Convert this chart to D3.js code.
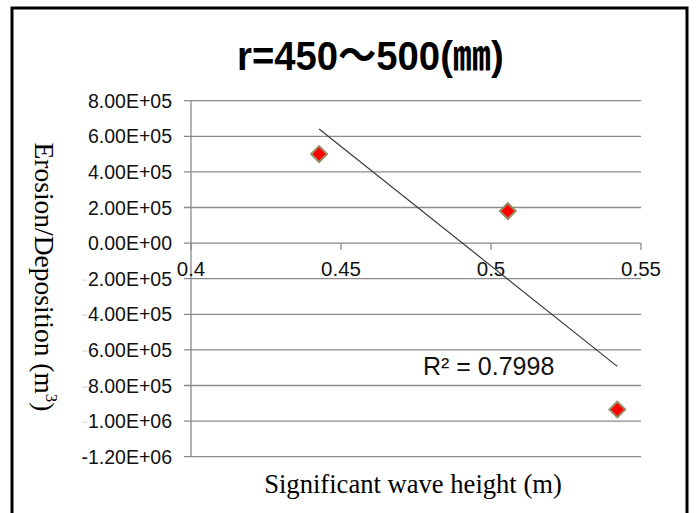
<!DOCTYPE html>
<html><head><meta charset="utf-8">
<script src="https://cdn.jsdelivr.net/npm/d3@7"></script>
<style>body{margin:0;background:#fff}svg{display:block}</style>
</head><body>
<script>
const titleText = "r=450～500(㎜)";
const xLabel = "Significant wave height (m)";
const yLabel = "Erosion/Deposition (m";
const waveHeight = [0.4427, 0.5056, 0.5421];
const erosionDeposition = [500000, 180000, -935000];
const xTicks = [0.4, 0.45, 0.5, 0.55];
const yTicks = [800000, 600000, 400000, 200000, 0, -200000, -400000, -600000, -800000, -1000000, -1200000];
const r2Label = "R² = 0.7998";

const W = 696, H = 513;
const svg = d3.select("body").append("svg").attr("width", W).attr("height", H);
svg.append("rect").attr("width", W).attr("height", H).attr("fill", "#fff");

// frame
svg.append("path").attr("d", `M12,513 V8 H687 V513`).attr("fill", "none")
  .attr("stroke", "#000").attr("stroke-width", 3);

const x = d3.scaleLinear().domain([0.4, 0.55]).range([191, 641]);
const y = d3.scaleLinear().domain([-1200000, 800000]).range([456.7, 100.7]);
const grid = "#8a8a8a";

// horizontal gridlines + y ticks
svg.append("g").selectAll("line").data(yTicks).join("line")
  .attr("x1", x(0.4) - 7).attr("x2", x(0.55))
  .attr("y1", d => y(d)).attr("y2", d => y(d))
  .attr("stroke", grid).attr("stroke-width", 1.3);
// y axis line
svg.append("line").attr("x1", x(0.4)).attr("x2", x(0.4))
  .attr("y1", y(800000)).attr("y2", y(-1200000))
  .attr("stroke", grid).attr("stroke-width", 1.3);
// x ticks at zero line
svg.append("g").selectAll("line").data(xTicks).join("line")
  .attr("x1", d => x(d)).attr("x2", d => x(d))
  .attr("y1", y(0)).attr("y2", y(0) + 7)
  .attr("stroke", grid).attr("stroke-width", 1.3);

// y tick labels
const fmt = v => Math.abs(v).toExponential(2).toUpperCase().replace(/E([+-])(\d)$/, "E$10$2");
const yl = svg.append("g").attr("font-family", "Liberation Sans, Arial, sans-serif")
  .attr("font-size", 19.5).attr("fill", "#111").attr("text-anchor", "end");
yTicks.forEach(v => {
  const t = yl.append("text").attr("x", 172).attr("y", y(v)).attr("dy", "0.36em");
  if (v < 0) t.append("tspan").attr("fill", v === -1200000 ? "#111" : "#e2e2e2").text("-");
  t.append("tspan").text(fmt(v));
});

// x tick labels
svg.append("g").selectAll("text").data(xTicks).join("text")
  .attr("x", d => x(d)).attr("y", 276)
  .attr("text-anchor", "middle")
  .attr("font-family", "Liberation Sans, Arial, sans-serif")
  .attr("font-size", 20.5).attr("fill", "#111")
  .text(d => String(d));

// trendline (least squares)
const n = waveHeight.length;
const mx = d3.mean(waveHeight), my = d3.mean(erosionDeposition);
let sxy = 0, sxx = 0;
for (let i = 0; i < n; i++) { sxy += (waveHeight[i]-mx)*(erosionDeposition[i]-my); sxx += (waveHeight[i]-mx)**2; }
const slope = sxy / sxx, icpt = my - slope * mx;
const [x0, x1] = d3.extent(waveHeight);
svg.append("line")
  .attr("x1", x(x0)).attr("y1", y(icpt + slope * x0))
  .attr("x2", x(x1)).attr("y2", y(icpt + slope * x1))
  .attr("stroke", "#3a3a3a").attr("stroke-width", 1.2);

// markers
const sym = d3.symbol().type(d3.symbolSquare).size(125);
svg.append("g").selectAll("path").data(waveHeight).join("path")
  .attr("d", sym)
  .attr("transform", (d, i) => `translate(${x(d)},${y(erosionDeposition[i])}) rotate(45)`)
  .attr("fill", "#ff0000").attr("stroke", "#9a8c64").attr("stroke-width", 2);

// R² label
svg.append("text").attr("x", 423).attr("y", 375)
  .attr("font-family", "Liberation Sans, Arial, sans-serif")
  .attr("font-size", 25).attr("fill", "#111").text(r2Label);

// axis titles
svg.append("text").attr("x", 413).attr("y", 493).attr("text-anchor", "middle")
  .attr("font-family", "Liberation Serif, Times New Roman, serif")
  .attr("font-size", 26.6).attr("fill", "#000").text(xLabel);
const yt = svg.append("text").attr("transform", "translate(35,277) rotate(90)")
  .attr("text-anchor", "middle")
  .attr("font-family", "Liberation Serif, Times New Roman, serif")
  .attr("font-size", 27.5).attr("fill", "#000");
yt.append("tspan").text(yLabel);
yt.append("tspan").attr("font-size", 17).attr("dy", -11).text("3");
yt.append("tspan").attr("dy", 11).text(")");

// title
const tt = svg.append("text").attr("x", 0).attr("y", 0)
  .attr("font-family", "Liberation Sans Narrow, Arial Narrow, Liberation Sans, Noto Sans CJK JP, sans-serif")
  .attr("font-weight", "bold").attr("font-size", 41).attr("fill", "#000")
  .text(titleText);
const tw = tt.node().getComputedTextLength();
const sx = 267 / tw;
tt.attr("transform", `translate(237,70) scale(${sx},1)`);
</script>
</body></html>
